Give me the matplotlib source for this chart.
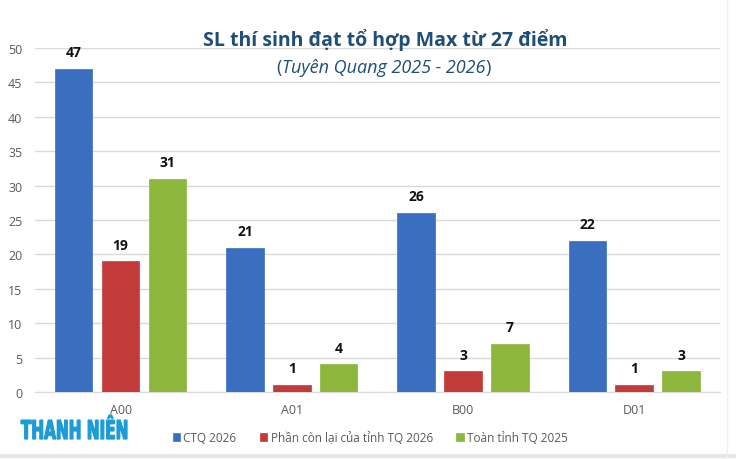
import matplotlib
matplotlib.use("Agg")
import matplotlib.pyplot as plt
import numpy as np
from matplotlib.textpath import TextPath
from matplotlib.patches import PathPatch
from matplotlib.font_manager import FontProperties
from matplotlib.transforms import Affine2D
from matplotlib.lines import Line2D

categories = ["A00", "A01", "B00", "D01"]
series_names = ["CTQ 2026", "Phần còn lại của tỉnh TQ 2026", "Toàn tỉnh TQ 2025"]
ctq_2026 = [47, 21, 26, 22]
rest_2026 = [19, 1, 3, 1]
all_2025 = [31, 4, 7, 3]
colors = ["#3a6fbf", "#c23a3a", "#8cb63c"]

plt.rcParams["font.family"] = ["Open Sans", "DejaVu Sans"]

W, H = 736, 460
fig = plt.figure(figsize=(W / 100, H / 100), dpi=100)
ax = fig.add_axes([0.0476, 0.1457, 0.9304, 0.7478])

x = np.arange(len(categories))
width = 0.219
step = 0.274
for k, vals in enumerate([ctq_2026, rest_2026, all_2025]):
    pos = x + (k - 1) * step
    bars = ax.bar(pos, vals, width, color=colors[k], label=series_names[k],
                  edgecolor=colors[k], linewidth=0.5, zorder=3)
    for b, v in zip(bars, vals):
        ax.annotate(str(v), (b.get_x() + b.get_width() / 2, v),
                    xytext=(0, 7), textcoords="offset points",
                    ha="center", va="bottom", fontsize=10, fontweight="bold",
                    color="#111111")

ax.set_xlim(-0.5, len(categories) - 0.5)
ax.set_ylim(0, 50)
ax.set_yticks(range(0, 51, 5))
ax.set_xticks(x)
ax.set_xticklabels(categories)
ax.tick_params(axis="both", length=0, labelsize=9, colors="#595959")
ax.tick_params(axis="x", pad=8)
ax.tick_params(axis="y", pad=9)
ax.grid(axis="y", color="#d9d9d9", linewidth=1, zorder=0)
for s in ["top", "right", "left"]:
    ax.spines[s].set_visible(False)
ax.spines["bottom"].set_color("#d9d9d9")

# title
fig.text(0.523, 0.913, "SL thí sinh đạt tổ hợp Max từ 27 điểm",
         ha="center", va="center", fontsize=14, fontweight="bold",
         color="#1f4e79")
sub = fig.text(0.521, 0.852, "Tuyên Quang 2025 - 2026", ha="center",
               va="center", fontsize=13, style="italic", color="#1f4e79")
ax.annotate("(", xy=(0, 0.5), xycoords=sub, ha="right", va="center",
            fontsize=13, color="#1f4e79")
ax.annotate(")", xy=(1, 0.5), xycoords=sub, ha="left", va="center",
            fontsize=13, color="#1f4e79")

fig.legend(loc="center", bbox_to_anchor=(0.503, 0.046), ncol=3,
           frameon=False, fontsize=8.5, handlelength=0.6, handleheight=0.6,
           handletextpad=0.3, columnspacing=2.0, labelcolor="#595959")

# logo, squeezed into its box
tp = TextPath((0, 0), "THANH NIÊN", size=1,
              prop=FontProperties(family="DejaVu Sans", weight="bold"))
bb = tp.get_extents()
tr = (Affine2D().translate(-bb.x0, -bb.y0)
      .scale(106 / W / bb.width, 24 / H / bb.height)
      .translate(21 / W, 20 / H) + fig.transFigure)
fig.add_artist(PathPatch(tp, transform=tr, facecolor="#1b9bd7",
                         edgecolor="#1b9bd7", linewidth=0.9))

# faint frame at bottom and right
fig.add_artist(Line2D([0, 1], [0.006, 0.006], transform=fig.transFigure,
                      color="#e6e6e6", linewidth=3))
fig.add_artist(Line2D([0.988, 0.988], [0, 1], transform=fig.transFigure,
                      color="#f0f0f0", linewidth=1))

fig.savefig("out.png", dpi=100)
